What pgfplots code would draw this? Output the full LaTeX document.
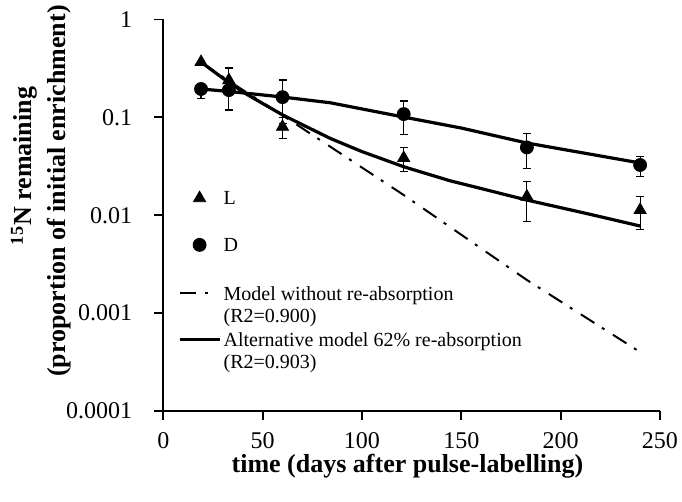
\documentclass[border=0pt]{standalone}
\usepackage{pgfplots}
\pgfplotsset{compat=1.18}
\usepackage{fontspec}
\setmainfont{Liberation Serif}
\pgfplotsset{
  legmark/.style={legend image code/.code={\draw[##1] plot coordinates {(10pt,3.4pt)};}},
  legdash/.style={legend image code/.code={\draw[##1] (0pt,4pt) -- (16pt,4pt);}},
  legsolid/.style={legend image code/.code={\draw[##1] (0pt,3.7pt) -- (20pt,3.7pt);}},
}
\pgfplotstableread{
x y ep em
19 0.367 0 0
33 0.24 0 0
60 0.08 0.019 0.019
121 0.0384 0.0105 0.0105
183 0.0155 0.0068 0.0068
240 0.0113 0.0042 0.0042
}\Ldata
\pgfplotstableread{
x y ep em
19 0.195 0.02 0.038
33 0.19 0.13 0.071
60 0.161 0.08 0.075
121 0.108 0.039 0.041
183 0.0493 0.0195 0.0195
240 0.0326 0.007 0.0079
}\Ddata
\begin{document}
\begin{tikzpicture}
\path[use as bounding box] (-81.65pt,-45.5pt) rectangle (259.35pt,205.5pt);
\begin{axis}[
  at={(0,0)}, anchor=south west,
  scale only axis, width=248.35pt, height=195.75pt,
  xmin=0, xmax=250, ymin=1e-4, ymax=1, ymode=log,
  axis x line*=bottom, axis y line*=left,
  axis line style={line width=0.9pt},
  tick style={line width=0.9pt, black},
  tick align=outside, major tick length=4.5pt,
  xtick={0,50,100,150,200,250}, xticklabels={0,50,100,150,200,250},
  ytick={0.0001,0.001,0.01,0.1,1}, yticklabels={0.0001,0.001,0.01,0.1,1},
  yminorticks=false,
  tick label style={font=\fontsize{12}{14}\selectfont},
  yticklabel style={xshift=-7.5pt},
  xticklabel style={yshift=-4pt, inner sep=2pt},
  legend style={at={(axis description cs:0.0296,0.5773)}, anchor=north west,
    draw=none, fill=none, inner sep=0pt, outer sep=0pt, row sep=0pt, column sep=1.2pt,
    font=\fontsize{10}{11}\selectfont,
    cells={anchor=base west},
    nodes={inner sep=0pt}},
]
\addplot[black, only marks, mark=triangle*, mark size=3.5pt, legmark,
  error bars/.cd, y dir=both, y explicit,
  error bar style={line width=0.6pt},
  error mark options={rotate=90, line width=0.6pt, mark size=2pt}]
  table[x=x, y=y, y error plus=ep, y error minus=em] {\Ldata};
\addlegendentry[text height=10pt, text depth=13.35pt]{L}
\addplot[black, only marks, mark=*, mark size=3.25pt, legmark,
  error bars/.cd, y dir=both, y explicit,
  error bar style={line width=0.6pt},
  error mark options={rotate=90, line width=0.6pt, mark size=2pt}]
  table[x=x, y=y, y error plus=ep, y error minus=em] {\Ddata};
\addlegendentry[text height=10pt, text depth=14.5pt]{D}
\addplot[black, line width=1pt, dash pattern=on 8pt off 4.5pt on 1.5pt off 5pt, legdash]
  coordinates {(19,0.367) (33,0.235) (60,0.105) (121,0.0161) (183,0.00218) (240,0.0004)};
\addlegendentry[text height=10pt, text depth=14pt]{\vtop{\hbox{Model without re-absorption}\hbox{(R2=0.900)}}}
\addplot[black, line width=1.6pt, legsolid]
  coordinates {(19,0.367) (30,0.251) (42,0.172) (60,0.106) (84,0.061) (100,0.0447) (121,0.0313) (144,0.0226) (183,0.0143) (215,0.0102) (240,0.00776)};
\addlegendentry[text height=9pt, text depth=14pt]{\vtop{\hbox{Alternative model 62\% re-absorption}\hbox{(R2=0.903)}}}
\addplot[black, line width=1.6pt, forget plot]
  coordinates {(19,0.195) (33,0.184) (60,0.1614) (84,0.141) (121,0.1007) (150,0.0778) (183,0.0547) (240,0.0342)};
\end{axis}
\node[anchor=base, inner sep=0pt, font=\fontsize{13}{15}\selectfont\bfseries] at (122.1pt,-31pt) {time (days after pulse-labelling)};
\node[rotate=90, font=\fontsize{13}{15}\selectfont\bfseries] at (-69.65pt,122.5pt) {\textsuperscript{15}N remaining};
\node[rotate=90, font=\fontsize{13}{15}\selectfont\bfseries] at (-52.15pt,110pt) {(proportion of initial enrichment)};
\end{tikzpicture}
\end{document}
